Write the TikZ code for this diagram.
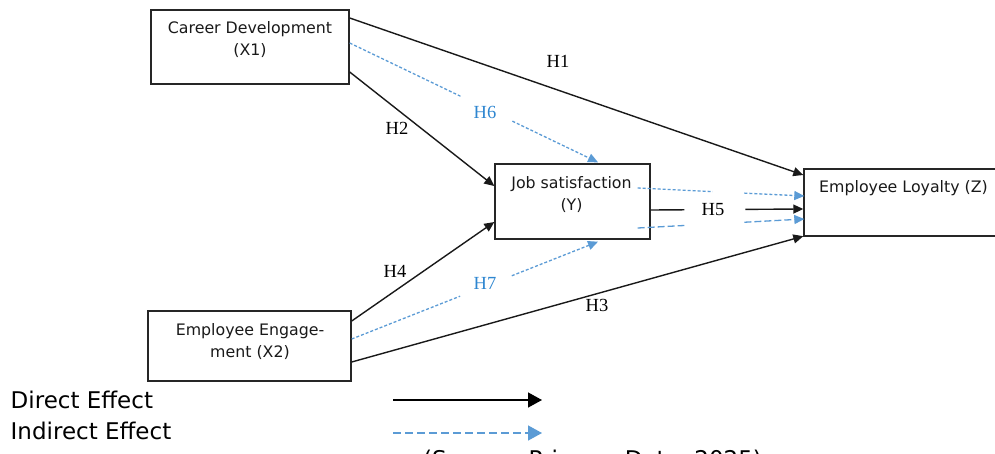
\documentclass[tikz,border=0pt]{standalone}
\usepackage{fontspec}
\setmainfont{DejaVu Sans}
\newfontfamily\hfont{Liberation Serif}
\usetikzlibrary{arrows.meta,calc}
\definecolor{lblue}{RGB}{91,155,213}
\definecolor{hblue}{RGB}{46,134,208}
\begin{document}
\begin{tikzpicture}[x=1pt,y=-1pt,
  box/.style={draw=black!85, line width=1.4pt, inner sep=0pt},
  boxtext/.style={align=center, inner sep=0pt, text=black!90, font=\fontsize{15.8}{22}\selectfont},
  hlab/.style={inner sep=0pt, font=\hfont\fontsize{18.5}{20}\selectfont},
  hlabb/.style={hlab, text=hblue},
  legtext/.style={inner sep=0pt, anchor=base west, font=\fontsize{23}{26}\selectfont},
  direct/.style={draw=black!90, line width=1.4pt},
  dtip/.style={-{Triangle[length=10pt,width=9pt]}},
  indirect/.style={draw=lblue, line width=1.3pt, dash pattern=on 3pt off 2pt},
  indirectl/.style={draw=lblue, line width=1.3pt, dash pattern=on 7pt off 3pt},
  btip/.style={-{Triangle[length=10pt,width=9pt,fill=lblue]}},
]
\useasboundingbox (0,0) rectangle (995,453);

% boxes
\node[box, minimum width=198pt, minimum height=74pt] (cd) at (250,47) {};
\node[box, minimum width=155pt, minimum height=75pt] (js) at (572.5,201.5) {};
\node[box, minimum width=200pt, minimum height=67pt] (el) at (904,202.5) {};
\node[box, minimum width=203pt, minimum height=70pt] (ee) at (249.5,346) {};

\node[boxtext] (cdt) at (250,39.5) {Career Development\\(X1)};
\node[boxtext] (jst) at (571.5,195) {Job satisfaction\\(Y)};
\node[boxtext] (elt) at (903.5,188) {Employee Loyalty (Z)};
\node[boxtext] (eet) at (250,342) {Employee Engage-\\ment (X2)};

% connector end points
\coordinate (h1s) at ($(cd.east)+(0,-29)$);
\coordinate (h1e) at ($(el.west)+(0,-27.5)$);
\coordinate (h2s) at ($(cd.east)+(0,25)$);
\coordinate (h2e) at ($(js.west)+(0,-15.5)$);
\coordinate (h6s) at ($(cd.east)+(0,-4)$);
\coordinate (h6e) at ($(js.north)+(25.5,-1)$);
\coordinate (h4s) at ($(ee.east)+(0,-25)$);
\coordinate (h4e) at ($(js.west)+(0,20.5)$);
\coordinate (h7s) at ($(ee.east)+(0,-7)$);
\coordinate (h7e) at ($(js.south)+(25.5,2)$);
\coordinate (h3s) at ($(ee.east)+(0,16)$);
\coordinate (h3e) at ($(el.south west)+(0,-0.5)$);
\coordinate (h5s) at ($(js.east)+(0,8.5)$);
\coordinate (h5e) at ($(el.west)+(0,6.5)$);
\coordinate (ius) at ($(js.east)+(-13,-13.5)$);
\coordinate (iue) at ($(el.west)+(1,-6.5)$);
\coordinate (ils) at ($(js.east)+(-13,26.5)$);
\coordinate (ile) at ($(el.west)+(1,16.5)$);

% direct effects
\draw[direct, dtip] (h1s) -- (h1e);
\draw[direct, dtip] (h2s) -- (h2e);
\draw[direct, dtip] (h4s) -- (h4e);
\draw[direct, dtip] (h3s) -- (h3e);
\draw[direct] (h5s) -- ($(h5s)!0.22!(h5e)$);
\draw[direct, dtip] ($(h5s)!0.62!(h5e)$) -- (h5e);

% indirect effects
\draw[indirect] (h6s) -- ($(h6s)!0.446!(h6e)$);
\draw[indirect, btip] ($(h6s)!0.655!(h6e)$) -- (h6e);
\draw[indirect] (h7s) -- ($(h7s)!0.44!(h7e)$);
\draw[indirect, btip] ($(h7s)!0.65!(h7e)$) -- (h7e);
\draw[indirect] (ius) -- ($(ius)!0.45!(iue)$);
\draw[indirect, btip] ($(ius)!0.64!(iue)$) -- (iue);
\draw[indirectl] (ils) -- ($(ils)!0.28!(ile)$);
\draw[indirectl, btip] ($(ils)!0.64!(ile)$) -- (ile);

% labels
\node[hlab] (l1) at (558,61) {H1};
\node[hlab] (l2) at (397,128) {H2};
\node[hlabb] (l6) at (485,112) {H6};
\node[hlab] (l4) at (395,271) {H4};
\node[hlabb] (l7) at (485,283) {H7};
\node[hlab] (l3) at (597,305) {H3};
\node[hlab] (l5) at (713,210) {H5};

% legend
\node[legtext] (ld) at (10.5,408) {Direct Effect};
\node[legtext] (li) at (10.5,439) {Indirect Effect};
\coordinate (lds) at (393,400);
\coordinate (lde) at (542,400);
\coordinate (lis) at (393,433);
\coordinate (lie) at (542,433);
\draw[draw=black, line width=1.4pt, -{Triangle[length=14pt,width=15pt]}] (lds) -- (lde);
\draw[draw=lblue, line width=1.4pt, dash pattern=on 8pt off 4pt, -{Triangle[length=14pt,width=15pt,fill=lblue]}] (lis) -- (lie);

\node[legtext] (src) at (423,467.5) {(Source: Primary Data, 2025)};
\end{tikzpicture}
\end{document}
